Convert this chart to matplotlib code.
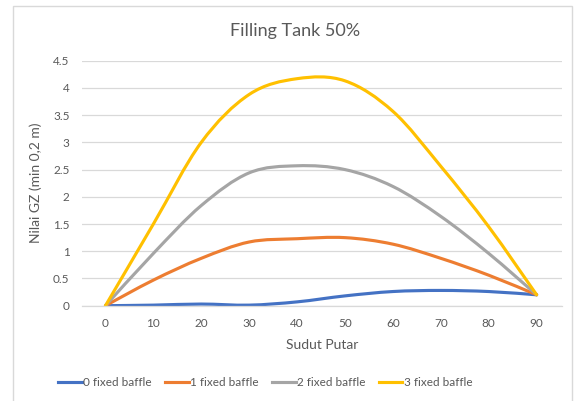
import matplotlib
matplotlib.use('Agg')
import matplotlib.pyplot as plt
from matplotlib.path import Path
from matplotlib.patches import PathPatch, Rectangle
from matplotlib.lines import Line2D
import numpy as np

angles = [0, 10, 20, 30, 40, 50, 60, 70, 80, 90]
gz_0 = [0, 0.01, 0.03, 0.01, 0.07, 0.18, 0.26, 0.28, 0.26, 0.20]
gz_1 = [0, 0.47, 0.87, 1.17, 1.23, 1.25, 1.13, 0.87, 0.56, 0.20]
gz_2 = [0, 0.96, 1.84, 2.44, 2.57, 2.50, 2.19, 1.64, 0.96, 0.20]
gz_3 = [0, 1.50, 3.00, 3.88, 4.17, 4.13, 3.57, 2.56, 1.45, 0.20]
labels = ['0 fixed baffle', '1 fixed baffle', '2 fixed baffle', '3 fixed baffle']
colors = ['#4472C4', '#ED7D31', '#A5A5A5', '#FFC000']
y_ticks = [0, 0.5, 1, 1.5, 2, 2.5, 3, 3.5, 4, 4.5]
y_labels = ['0', '0.5', '1', '1.5', '2', '2.5', '3', '3.5', '4', '4.5']

plt.rcParams['font.family'] = ['Lato', 'DejaVu Sans']
TEXT = '#595959'


def smooth_path(xs, ys):
    """Excel-like smoothed line as a cubic bezier path through the points."""
    p = np.column_stack([xs, ys]).astype(float)
    n = len(p)
    verts = [p[0]]
    codes = [Path.MOVETO]
    for i in range(n - 1):
        p0 = p[max(i - 1, 0)]
        p1 = p[i]
        p2 = p[i + 1]
        p3 = p[min(i + 2, n - 1)]
        c1 = p1 + (p2 - p0) / 6.0
        c2 = p2 - (p3 - p1) / 6.0
        verts += [c1, c2, p2]
        codes += [Path.CURVE4] * 3
    return Path(verts, codes)


fig = plt.figure(figsize=(5.75, 4.01), dpi=100)
ax = fig.add_axes([0.1426, 0.2377, 0.8348, 0.6109])

for ys, c in zip([gz_0, gz_1, gz_2, gz_3], colors):
    patch = PathPatch(smooth_path(angles, ys), facecolor='none', edgecolor=c,
                      linewidth=2.25, capstyle='round', joinstyle='round',
                      transform=ax.transData)
    ax.add_patch(patch)

ax.set_xlim(-4.9, 95.3)
ax.set_ylim(0, 4.5)
ax.set_xticks(angles)
ax.set_yticks(y_ticks)
ax.set_yticklabels(y_labels)
ax.tick_params(length=0, colors=TEXT, labelsize=8.5, pad=9)
ax.yaxis.grid(True, color='#D9D9D9', linewidth=0.9)
ax.set_axisbelow(True)
for s in ['top', 'right', 'left']:
    ax.spines[s].set_visible(False)
ax.spines['bottom'].set_color('#D9D9D9')
ax.spines['bottom'].set_linewidth(0.9)

ax.set_xlabel('Sudut Putar', color=TEXT, fontsize=10, labelpad=7)
ax.set_ylabel('Nilai GZ (min 0,2 m)', color=TEXT, fontsize=10, labelpad=8)
fig.text(0.513, 0.922, 'Filling Tank 50%', ha='center', va='center',
         color=TEXT, fontsize=13)

handles = [Line2D([0], [0], color=c, linewidth=2.25) for c in colors]
leg = fig.legend(handles, labels, loc='center', bbox_to_anchor=(0.461, 0.047),
                 ncol=4, frameon=False, fontsize=8.5, handlelength=2.0,
                 handletextpad=0.1, columnspacing=1.15)
for t in leg.get_texts():
    t.set_color(TEXT)

fig.patches.append(Rectangle((12.5 / 575, -0.05), (572 - 12.5) / 575, 1.05 - 6 / 401,
                             transform=fig.transFigure, fill=False,
                             edgecolor='#D9D9D9', linewidth=1))

fig.savefig('out.png', dpi=100)
